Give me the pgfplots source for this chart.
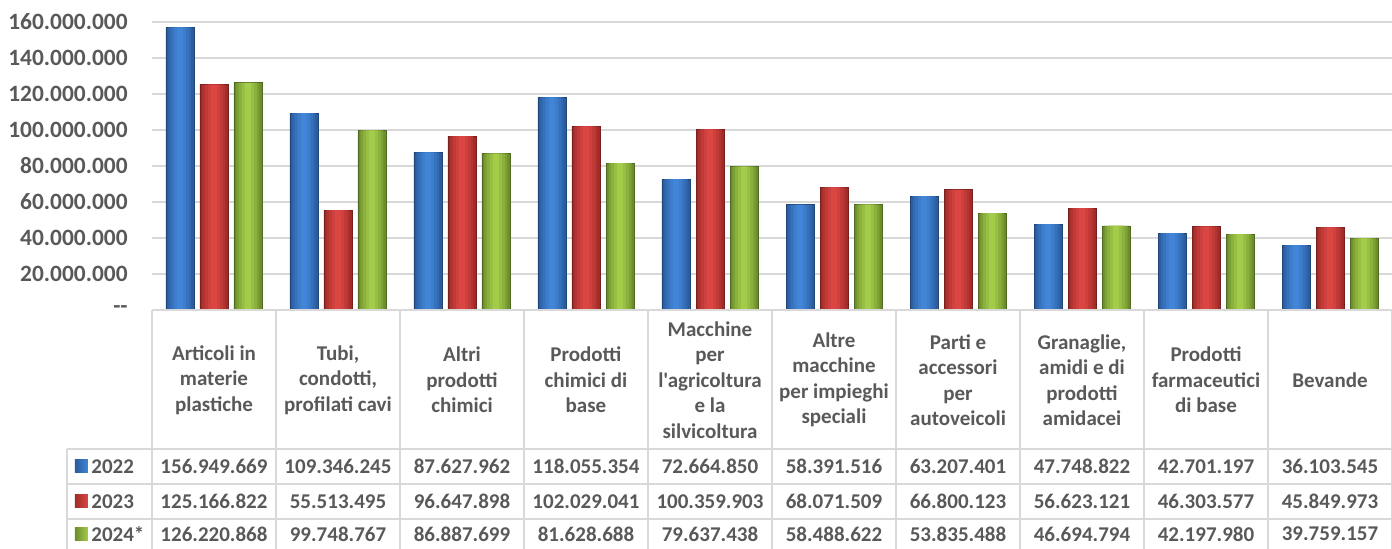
\documentclass[border=0pt]{standalone}
\usepackage{fontspec}
\newfontfamily\carl{Carlito}
\usepackage{pgfplots}
\usepackage{pgfplotstable}
\pgfplotsset{compat=1.18}
\definecolor{txt}{HTML}{595959}
\definecolor{grd}{HTML}{D9D9D9}
\definecolor{bA}{HTML}{2A5C9E}
\definecolor{bB}{HTML}{4285D6}
\definecolor{rA}{HTML}{A02B28}
\definecolor{rB}{HTML}{DB4643}
\definecolor{gA}{HTML}{6C8D2C}
\definecolor{gB}{HTML}{A3CC4A}
\pgfplotstableread{
x a b c
0 156949669 125166822 126220868
1 109346245 55513495 99748767
2 87627962 96647898 86887699
3 118055354 102029041 81628688
4 72664850 100359903 79637438
5 58391516 68071509 58488622
6 63207401 66800123 53835488
7 47748822 56623121 46694794
8 42701197 46303577 42197980
9 36103545 45849973 39759157
}\data
\newcommand\barset[4]{%
 \addplot[bar shift=#2, bar width=14pt, fill=#3, draw=#3!75!black, line width=0.4pt] table[x=x,y=#1]{\data};
 \addplot[bar shift=#2, bar width=11.5pt, fill=#3!70!#4, draw=none] table[x=x,y=#1]{\data};
 \addplot[bar shift=#2, bar width=9pt, fill=#3!45!#4, draw=none] table[x=x,y=#1]{\data};
 \addplot[bar shift=#2, bar width=6pt, fill=#3!20!#4, draw=none] table[x=x,y=#1]{\data};
 \addplot[bar shift=#2, bar width=3pt, fill=#4, draw=none] table[x=x,y=#1]{\data};
}
\begin{document}
\begin{tikzpicture}[x=1pt,y=1pt]
\path[use as bounding box] (-76,-119.5) rectangle (620,155);
\begin{axis}[
  at={(0,0)}, anchor=south west,
  scale only axis, width=620pt, height=144pt,
  xmin=-0.5, xmax=9.5, ymin=0, ymax=160000000,
  ybar, bar width=14pt,
  xtick=\empty,
  scaled y ticks=false,
  ytick={0,20000000,40000000,60000000,80000000,100000000,120000000,140000000,160000000},
  yticklabels={--,20.000.000,40.000.000,60.000.000,80.000.000,100.000.000,120.000.000,140.000.000,160.000.000},
  yticklabel style={font=\carl\bfseries\fontsize{11.7}{14}\selectfont, text=txt, inner sep=0pt, xshift=-12pt},
  ymajorgrids, grid style={grd, line width=0.8pt},
  axis line style={draw=none}, major tick length=0pt,
  clip=false,
]
\barset{a}{-17pt}{bA}{bB}
\barset{b}{0pt}{rA}{rB}
\barset{c}{17pt}{gA}{gB}
\end{axis}
% table grid
\begin{scope}[grd, line width=1pt]
\draw (0,0) -- (620,0);
\foreach \k in {0,...,10} \draw (\k*62,0) -- (\k*62,-119.5);
\foreach \yy in {-69.5,-87,-104.5} \draw (-42.5,\yy) -- (620,\yy);
\draw (-42.5,-69.5) -- (-42.5,-119.5);
\end{scope}
\begin{scope}[every node/.style={font=\carl\bfseries\fontsize{10.5}{12.75}\selectfont, text=txt, align=center, inner sep=0pt}]
\foreach \lab [count=\i from 0] in {
 {Articoli in\\materie\\plastiche},
 {Tubi,\\condotti,\\profilati cavi},
 {Altri\\prodotti\\chimici},
 {Prodotti\\chimici di\\base},
 {Macchine\\per\\l'agricoltura\\e la\\silvicoltura},
 {Altre\\macchine\\per impieghi\\speciali},
 {Parti e\\accessori\\per\\autoveicoli},
 {Granaglie,\\amidi e di\\prodotti\\amidacei},
 {Prodotti\\farmaceutici\\di base},
 {Bevande}}
 \node at (\i*62+31,-35) {\lab};
\foreach \v [count=\i from 0] in {156.949.669,109.346.245,87.627.962,118.055.354,72.664.850,58.391.516,63.207.401,47.748.822,42.701.197,36.103.545}
 \node at (\i*62+31,-78.25) {\v};
\foreach \v [count=\i from 0] in {125.166.822,55.513.495,96.647.898,102.029.041,100.359.903,68.071.509,66.800.123,56.623.121,46.303.577,45.849.973}
 \node at (\i*62+31,-95.75) {\v};
\foreach \v [count=\i from 0] in {126.220.868,99.748.767,86.887.699,81.628.688,79.637.438,58.488.622,53.835.488,46.694.794,42.197.980,39.759.157}
 \node at (\i*62+31,-112) {\v};
\node[anchor=west] at (-30.5,-78.25) {2022};
\node[anchor=west] at (-30.5,-95.75) {2023};
\node[anchor=west] at (-30.5,-112) {2024*};
\end{scope}
\shade[left color=bA, right color=bB] (-38.5,-81.5) rectangle (-32,-75);
\shade[left color=rA, right color=rB] (-38.5,-99) rectangle (-32,-92.5);
\shade[left color=gA, right color=gB] (-38.5,-115.25) rectangle (-32,-108.75);
\end{tikzpicture}
\end{document}
